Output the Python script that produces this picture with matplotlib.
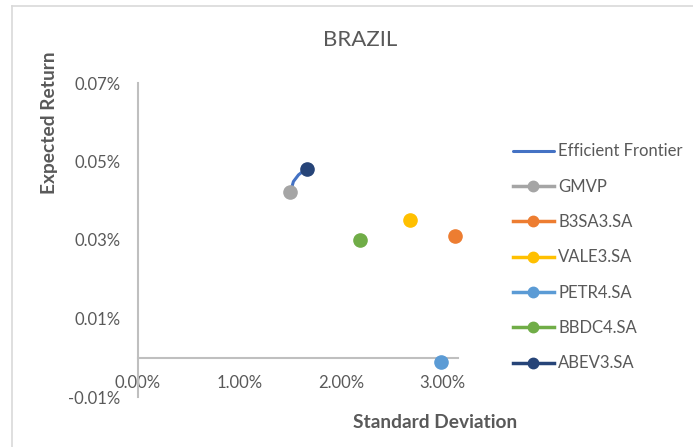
import matplotlib
matplotlib.use("Agg")
import matplotlib.pyplot as plt
from matplotlib.ticker import FuncFormatter
from matplotlib.lines import Line2D

plt.rcParams['font.family'] = ['Lato', 'DejaVu Sans']

# Data (fractions)
frontier_std = [0.0150, 0.0153, 0.0158, 0.0162, 0.0166]
frontier_ret = [0.000422, 0.000449, 0.000466, 0.000474, 0.000480]

names = ["GMVP", "B3SA3.SA", "VALE3.SA", "PETR4.SA", "BBDC4.SA", "ABEV3.SA"]
stds = [0.0150, 0.0312, 0.0268, 0.0298, 0.0219, 0.0166]
rets = [0.000422, 0.000310, 0.000350, -0.000011, 0.000299, 0.000480]
colors = ["#A5A5A5", "#ED7D31", "#FFC000", "#5B9BD5", "#70AD47", "#264478"]

x_ticks = [0.0, 0.01, 0.02, 0.03]
y_ticks = [-0.0001, 0.0001, 0.0003, 0.0005, 0.0007]

txt = "#595959"
W, H = 693, 447
fig = plt.figure(figsize=(W / 100, H / 100), dpi=100)
ax = fig.add_axes([138 / W, (H - 397) / H, 320 / W, 314 / H])

ax.plot(frontier_std, frontier_ret, color="#4472C4", lw=2.2,
        solid_capstyle="round", label="Efficient Frontier", zorder=2)
for n, s, r, c in zip(names, stds, rets, colors):
    ax.plot([s], [r], marker="o", ms=9.5, color=c, lw=2.5, ls="-",
            label=n, zorder=3, clip_on=False)

ax.set_xlim(0, 0.0315)
ax.set_ylim(-0.0001, 0.0007)
ax.set_xticks(x_ticks)
ax.set_yticks(y_ticks)
fmt = FuncFormatter(lambda v, p: f"{v*100:.2f}%")
ax.xaxis.set_major_formatter(fmt)
ax.yaxis.set_major_formatter(fmt)
ax.tick_params(axis="both", length=0, labelsize=12, colors=txt)
ax.tick_params(axis="x", pad=12.5)
ax.tick_params(axis="y", pad=12.5)

for s in ["top", "right"]:
    ax.spines[s].set_visible(False)
ax.spines["bottom"].set_position(("data", 0))
for s in ["left", "bottom"]:
    ax.spines[s].set_color("#BFBFBF")
    ax.spines[s].set_linewidth(1.5)
ax.patch.set_alpha(0)

fig.text(360 / W, 1 - 40 / H, "BRAZIL", ha="center", va="center",
         fontsize=16, color=txt)
fig.text(435 / W, 1 - 423 / H, "Standard Deviation", ha="center",
         va="center", fontsize=13.8, fontweight="bold", color=txt)
fig.text(50 / W, 1 - 123 / H, "Expected Return", ha="center",
         va="center", rotation=90, fontsize=13.8, fontweight="bold", color=txt)

leg = fig.legend(loc="upper left", bbox_to_anchor=(513 / W, 1 - 143.5 / H),
                 frameon=False, fontsize=12, handlelength=2.45,
                 handletextpad=0.25, labelspacing=1.16, borderpad=0,
                 borderaxespad=0)
for t in leg.get_texts():
    t.set_color(txt)
for h in leg.legend_handles:
    h.set_markersize(7.5)

# chart border (top and left visible)
fig.add_artist(Line2D([12 / W, 1], [1 - 6 / H, 1 - 6 / H],
                      transform=fig.transFigure, color="#D9D9D9", lw=1.2))
fig.add_artist(Line2D([12 / W, 12 / W], [0, 1 - 6 / H],
                      transform=fig.transFigure, color="#D9D9D9", lw=1.2))

fig.savefig("out.png", dpi=100)
